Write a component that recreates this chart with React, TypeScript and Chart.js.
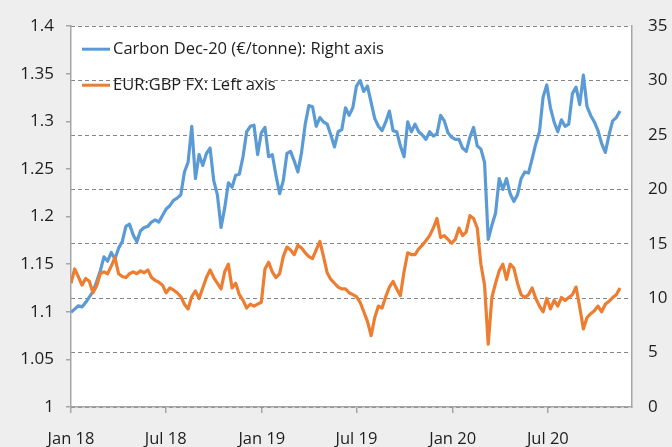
import React, { useEffect, useRef } from 'react';
import { Chart, registerables } from 'chart.js';

Chart.register(...registerables);

// Weekly observation dates (Mondays)
const dates = [
  '2018-01-01','2018-01-08','2018-01-15','2018-01-22','2018-01-29',
  '2018-02-05','2018-02-12','2018-02-19','2018-02-26',
  '2018-03-05','2018-03-12','2018-03-19','2018-03-26',
  '2018-04-02','2018-04-09','2018-04-16','2018-04-23','2018-04-30',
  '2018-05-07','2018-05-14','2018-05-21','2018-05-28',
  '2018-06-04','2018-06-11','2018-06-18','2018-06-25',
  '2018-07-02','2018-07-09','2018-07-16','2018-07-23','2018-07-30',
  '2018-08-06','2018-08-13','2018-08-20','2018-08-27',
  '2018-09-03','2018-09-10','2018-09-17','2018-09-24',
  '2018-10-01','2018-10-08','2018-10-15','2018-10-22','2018-10-29',
  '2018-11-05','2018-11-12','2018-11-19','2018-11-26',
  '2018-12-03','2018-12-10','2018-12-17','2018-12-24','2018-12-31',
  '2019-01-07','2019-01-14','2019-01-21','2019-01-28',
  '2019-02-04','2019-02-11','2019-02-18','2019-02-25',
  '2019-03-04','2019-03-11','2019-03-18','2019-03-25',
  '2019-04-01','2019-04-08','2019-04-15','2019-04-22','2019-04-29',
  '2019-05-06','2019-05-13','2019-05-20','2019-05-27',
  '2019-06-03','2019-06-10','2019-06-17','2019-06-24',
  '2019-07-01','2019-07-08','2019-07-15','2019-07-22','2019-07-29',
  '2019-08-05','2019-08-12','2019-08-19','2019-08-26',
  '2019-09-02','2019-09-09','2019-09-16','2019-09-23','2019-09-30',
  '2019-10-07','2019-10-14','2019-10-21','2019-10-28',
  '2019-11-04','2019-11-11','2019-11-18','2019-11-25',
  '2019-12-02','2019-12-09','2019-12-16','2019-12-23','2019-12-30',
  '2020-01-06','2020-01-13','2020-01-20','2020-01-27',
  '2020-02-03','2020-02-10','2020-02-17','2020-02-24',
  '2020-03-02','2020-03-09','2020-03-16','2020-03-23','2020-03-30',
  '2020-04-06','2020-04-13','2020-04-20','2020-04-27',
  '2020-05-04','2020-05-11','2020-05-18','2020-05-25',
  '2020-06-01','2020-06-08','2020-06-15','2020-06-22','2020-06-29',
  '2020-07-06','2020-07-13','2020-07-20','2020-07-27',
  '2020-08-03','2020-08-10','2020-08-17','2020-08-24','2020-08-31',
  '2020-09-07','2020-09-14','2020-09-21','2020-09-28',
  '2020-10-05','2020-10-12','2020-10-19','2020-10-26',
  '2020-11-02','2020-11-09','2020-11-16',
];

// Carbon Dec-20 (EUR/tonne), right axis
const carbonDec20 = [
  8.7, 9.0, 9.3, 9.2, 9.6, 10.1, 10.6, 11.5, 12.5, 13.8,
  13.4, 14.2, 13.6, 14.6, 15.2, 16.6, 16.8, 15.8, 15.2, 16.2,
  16.5, 16.6, 17.0, 17.2, 17.0, 17.6, 18.2, 18.5, 19.0, 19.2,
  19.5, 21.6, 22.5, 25.8, 21.0, 23.2, 22.2, 23.3, 23.8, 20.8,
  19.5, 16.5, 18.3, 20.6, 20.2, 21.3, 21.4, 23.0, 25.3, 25.8,
  25.9, 23.2, 25.2, 25.7, 23.0, 23.2, 21.3, 19.6, 20.8, 23.3,
  23.5, 22.6, 21.6, 23.4, 26.0, 27.7, 27.6, 25.8, 26.6, 26.2,
  26.0, 25.0, 23.9, 25.3, 25.5, 27.5, 26.8, 27.5, 29.5, 30.0,
  29.0, 29.5, 28.0, 26.5, 25.8, 25.4, 26.2, 27.2, 25.4, 25.3,
  24.0, 23.0, 26.2, 25.3, 26.0, 25.3, 25.0, 24.6, 25.3, 24.9,
  25.1, 26.8, 26.3, 25.2, 24.8, 24.6, 24.6, 23.8, 23.5, 24.8,
  25.7, 24.0, 23.7, 22.5, 15.4, 16.7, 17.8, 21.0, 20.0, 21.0,
  19.6, 18.9, 19.5, 21.0, 21.6, 21.5, 22.8, 24.2, 25.3, 28.5,
  29.6, 27.5, 26.2, 25.3, 26.4, 25.8, 26.0, 28.8, 29.4, 27.8,
  30.5, 27.6, 26.8, 26.2, 25.4, 24.2, 23.4, 25.0, 26.3, 26.6,
  27.2,
];

// EUR:GBP FX, left axis
const eurGbpFx = [
  1.130, 1.145, 1.137, 1.128, 1.135, 1.132, 1.120, 1.127, 1.140, 1.142,
  1.140, 1.148, 1.157, 1.140, 1.137, 1.136, 1.140, 1.142, 1.140, 1.143,
  1.141, 1.144, 1.136, 1.133, 1.131, 1.128, 1.120, 1.125, 1.123, 1.120,
  1.116, 1.108, 1.103, 1.116, 1.122, 1.114, 1.125, 1.136, 1.144, 1.136,
  1.130, 1.124, 1.142, 1.150, 1.125, 1.130, 1.118, 1.112, 1.104, 1.108,
  1.106, 1.108, 1.110, 1.145, 1.152, 1.142, 1.136, 1.140, 1.158, 1.168,
  1.165, 1.160, 1.170, 1.167, 1.162, 1.158, 1.156, 1.165, 1.174, 1.158,
  1.141, 1.134, 1.130, 1.126, 1.124, 1.124, 1.120, 1.118, 1.116, 1.110,
  1.100, 1.090, 1.075, 1.094, 1.106, 1.104, 1.116, 1.126, 1.132, 1.124,
  1.117, 1.142, 1.162, 1.160, 1.160, 1.166, 1.170, 1.175, 1.180, 1.188,
  1.198, 1.178, 1.180, 1.176, 1.172, 1.176, 1.188, 1.180, 1.184, 1.201,
  1.198, 1.188, 1.150, 1.128, 1.066, 1.115, 1.130, 1.143, 1.150, 1.134,
  1.150, 1.146, 1.130, 1.118, 1.115, 1.118, 1.125, 1.114, 1.106, 1.100,
  1.114, 1.103, 1.112, 1.106, 1.115, 1.112, 1.115, 1.118, 1.126, 1.105,
  1.082, 1.094, 1.098, 1.101, 1.106, 1.100, 1.108, 1.111, 1.115, 1.118,
  1.125,
];

const seriesLabels = ['Carbon Dec-20 (€/tonne): Right axis', 'EUR:GBP FX: Left axis'];
const seriesColors = ['#5B9BD5', '#ED7D31'];

const xTickDates = ['2018-01-01', '2018-07-01', '2019-01-01', '2019-07-01', '2020-01-01', '2020-07-01'];
const xTickLabels = ['Jan 18', 'Jul 18', 'Jan 19', 'Jul 19', 'Jan 20', 'Jul 20'];
const xRange = ['2018-01-01', '2020-12-09'];

const leftAxisRange = [1, 1.4, 0.05];
const rightAxisRange = [0, 35, 5];

const dayOf = (s: string) => {
  const [y, m, d] = s.split('-').map(Number);
  return (Date.UTC(y, m - 1, d) - Date.UTC(2018, 0, 1)) / 86400000;
};

const FONT = "'Open Sans', 'Noto Sans', sans-serif";
const TEXT = '#1e1e1e';
const AXIS = '#a6a6a6';

const bgPlugin = {
  id: 'bgPlugin',
  beforeDraw(chart: any) {
    const { ctx, width, height, chartArea: a } = chart;
    ctx.save();
    ctx.fillStyle = '#eeeeee';
    ctx.fillRect(0, 0, width, height);
    ctx.fillStyle = '#ffffff';
    ctx.fillRect(a.left, a.top, a.right - a.left, a.bottom - a.top);
    ctx.restore();
  },
};

const legendPlugin = {
  id: 'inlineLegend',
  afterDatasetsDraw(chart: any) {
    const { ctx, chartArea: a } = chart;
    ctx.save();
    ctx.font = `16.5px ${FONT}`;
    ctx.textBaseline = 'middle';
    ctx.textAlign = 'left';
    chart.data.datasets.forEach((ds: any, i: number) => {
      const y = a.top + 23 + i * 36;
      ctx.strokeStyle = ds.borderColor;
      ctx.lineWidth = 3;
      ctx.beginPath();
      ctx.moveTo(a.left + 11, y);
      ctx.lineTo(a.left + 39, y);
      ctx.stroke();
      ctx.fillStyle = TEXT;
      ctx.fillText(ds.label, a.left + 42, y);
    });
    ctx.restore();
  },
};

export default function App() {
  const ref = useRef<HTMLCanvasElement | null>(null);

  useEffect(() => {
    if (!ref.current) return;
    const carbonPts = dates.map((d, i) => ({ x: dayOf(d), y: carbonDec20[i] }));
    const fxPts = dates.map((d, i) => ({ x: dayOf(d), y: eurGbpFx[i] }));

    const chart = new Chart(ref.current, {
      type: 'line',
      data: {
        datasets: [
          {
            label: seriesLabels[0],
            data: carbonPts,
            yAxisID: 'yR',
            borderColor: seriesColors[0],
            backgroundColor: seriesColors[0],
            borderWidth: 3.2,
            pointRadius: 0,
            tension: 0,
            borderJoinStyle: 'round',
            order: 2,
          },
          {
            label: seriesLabels[1],
            data: fxPts,
            yAxisID: 'yL',
            borderColor: seriesColors[1],
            backgroundColor: seriesColors[1],
            borderWidth: 3.2,
            pointRadius: 0,
            tension: 0,
            borderJoinStyle: 'round',
            order: 1,
          },
        ],
      },
      options: {
        responsive: false,
        animation: false,
        devicePixelRatio: 1,
        layout: { padding: { top: 19, left: 0, right: 0, bottom: 0 } },
        plugins: {
          legend: { display: false },
          tooltip: { enabled: false },
        },
        scales: {
          x: {
            type: 'linear',
            min: dayOf(xRange[0]),
            max: dayOf(xRange[1]),
            afterBuildTicks: (s: any) => {
              s.ticks = xTickDates.map((d) => ({ value: dayOf(d) }));
            },
            afterFit: (s: any) => {
              s.height = 40;
            },
            ticks: {
              autoSkip: false,
              maxRotation: 0,
              padding: 16,
              color: TEXT,
              font: { family: FONT, size: 16.5 },
              callback: (v: any) => {
                const idx = xTickDates.findIndex((d) => dayOf(d) === v);
                return idx >= 0 ? xTickLabels[idx] : '';
              },
            },
            grid: { drawOnChartArea: false, drawTicks: true, tickLength: 6, color: AXIS, lineWidth: 1.5 },
            border: { display: true, color: AXIS, width: 1.5 },
          },
          yL: {
            type: 'linear',
            position: 'left',
            min: leftAxisRange[0],
            max: leftAxisRange[1],
            afterFit: (s: any) => {
              s.width = 71;
            },
            ticks: {
              stepSize: leftAxisRange[2],
              padding: 12,
              color: TEXT,
              font: { family: FONT, size: 17 },
              callback: (v: any) => String(Math.round(Number(v) * 100) / 100),
            },
            grid: { drawOnChartArea: false, drawTicks: true, tickLength: 5, color: AXIS, lineWidth: 1.5 },
            border: { display: true, color: AXIS, width: 1.5 },
          },
          yR: {
            type: 'linear',
            position: 'right',
            min: rightAxisRange[0],
            max: rightAxisRange[1],
            afterFit: (s: any) => {
              s.width = 40;
            },
            ticks: {
              stepSize: rightAxisRange[2],
              padding: 16,
              color: TEXT,
              font: { family: FONT, size: 17 },
            },
            grid: { drawOnChartArea: true, drawTicks: false, color: '#858585', lineWidth: 1 },
            border: { display: true, color: AXIS, width: 1.5, dash: [4, 3] },
          },
        },
      },
      plugins: [bgPlugin, legendPlugin],
    } as any);

    return () => chart.destroy();
  }, []);

  return (
    <div style={{ position: 'fixed', left: 0, top: 0, width: 672, height: 447, background: '#eeeeee' }}>
      <canvas ref={ref} width={672} height={447} style={{ display: 'block' }} />
    </div>
  );
}
